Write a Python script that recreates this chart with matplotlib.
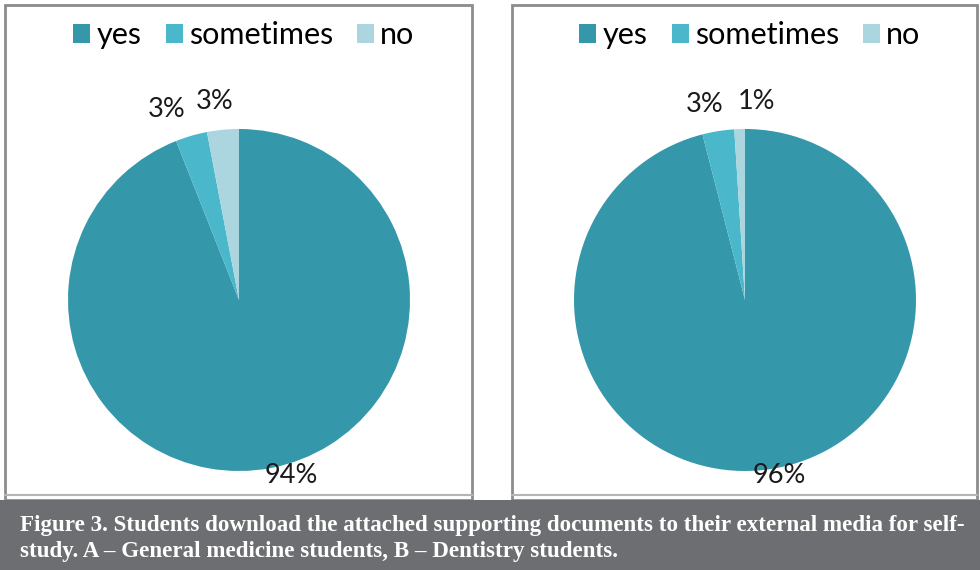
import matplotlib
matplotlib.use("Agg")
import matplotlib.pyplot as plt
from matplotlib.patches import Rectangle, Patch
import numpy as np

# ---- data -------------------------------------------------------------
categories = ["yes", "sometimes", "no"]
general_medicine = [94, 3, 3]
dentistry = [96, 3, 1]
caption_lines = [
    "Figure 3. Students download the attached supporting documents to their external media for self-",
    "study. A \u2013 General medicine students, B \u2013 Dentistry students.",
]

# ---- style ------------------------------------------------------------
colors = ["#3597aa", "#4ab7cb", "#abd5df"]
band_color = "#6d6e71"
frame_color = "#8c8c8c"
pie_font = ["Lato", "DejaVu Sans"]

W, H = 980, 570
fig = plt.figure(figsize=(W / 100, H / 100), dpi=100)
fig.patch.set_facecolor("white")


def px_box(x0, y0, x1, y1):
    """Convert a pixel box (top-left origin) to figure fractions."""
    return [x0 / W, 1 - y1 / H, (x1 - x0) / W, (y1 - y0) / H]


# panel frames
for x0, x1 in [(5, 472), (512, 977)]:
    fig.patches.append(Rectangle((x0 / W, 1 - 500 / H), (x1 - x0) / W, 495 / H,
                                 transform=fig.transFigure, facecolor="none",
                                 edgecolor=frame_color, linewidth=2.0, zorder=0))
    fig.add_artist(plt.Line2D([x0 / W, x1 / W], [1 - 495 / H, 1 - 495 / H],
                              transform=fig.transFigure, color="#b5b5b5", lw=1.5))

# caption band
fig.patches.append(Rectangle((0, 0), 1, 70 / H, transform=fig.transFigure,
                             facecolor=band_color, edgecolor="none", zorder=1))

# pies: (values, centre x, centre y, radius, label placement)
panels = [
    (general_medicine, 239, 300, 171,
     [(1.06, 18, 3), (1.19, -16, -5), (1.17, -6, -1)]),
    (dentistry, 745, 300, 171,
     [(1.04, 12, 1), (1.17, -9, -2), (1.17, 18, -1)]),
]

for values, cx, cy, r, label_pos in panels:
    ax = fig.add_axes(px_box(cx - r, cy - r, cx + r, cy + r))
    wedges, _ = ax.pie(values, colors=colors, startangle=90, counterclock=False,
                       radius=1, wedgeprops=dict(linewidth=0))
    ax.set_xlim(-1, 1)
    ax.set_ylim(-1, 1)
    ax.set_aspect("equal")
    ax.axis("off")
    for w, v, (dist, dx, dy) in zip(wedges, values, label_pos):
        ang = np.deg2rad((w.theta1 + w.theta2) / 2)
        ax.annotate(f"{v}%", (dist * np.cos(ang), dist * np.sin(ang)),
                    xytext=(dx, dy), textcoords="offset pixels",
                    ha="center", va="center", fontsize=19.5, color="#1a1a1a",
                    family=pie_font, annotation_clip=False)

    handles = [Patch(facecolor=c, edgecolor="none") for c in colors]
    fig.legend(handles, categories, loc="center",
               bbox_to_anchor=((cx + 5) / W, 1 - 35 / H), ncol=3, frameon=False,
               prop=dict(family=pie_font, size=22), handlelength=0.55,
               handleheight=0.6, handletextpad=0.2, columnspacing=0.8,
               borderpad=0)

# caption text, sized so the first line fills the band width
texts = []
for i, line in enumerate(caption_lines):
    t = fig.text(20 / W, 1 - (526 + 25 * i) / H, line, color="white",
                 family=["Liberation Serif", "DejaVu Serif"],
                 fontweight="bold", fontsize=14, ha="left", va="center", zorder=2)
    texts.append(t)
fig.canvas.draw()
renderer = fig.canvas.get_renderer()
width = texts[0].get_window_extent(renderer).width
scale = 945 / width
for t in texts:
    t.set_fontsize(14 * scale)

fig.savefig("out.png", dpi=100, facecolor="white")
